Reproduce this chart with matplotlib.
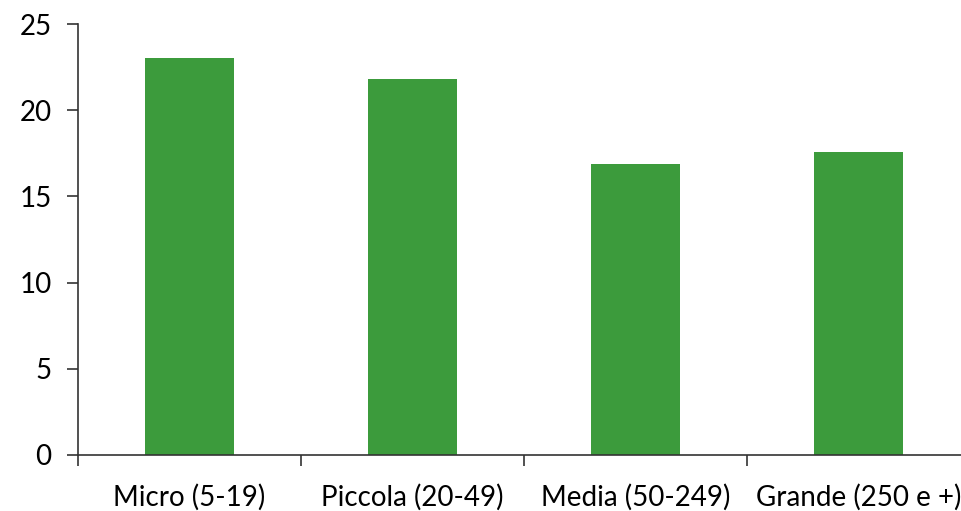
import numpy as np
import matplotlib.pyplot as plt

# dati
categorie = ['Micro (5-19)', 'Piccola (20-49)', 'Media (50-249)', 'Grande (250 e +)']
valori = [23.0, 21.8, 16.9, 17.6]

plt.rcParams['font.family'] = ['Lato', 'DejaVu Sans']

fig = plt.figure(figsize=(9.61, 5.11), dpi=100)
ax = fig.add_axes([0.0812, 0.1096, 0.9282, 0.8434])

x = np.arange(len(categorie))
ax.bar(x, valori, width=0.4, color='#3C9B3C')

ax.set_xlim(-0.5, 3.5)
ax.set_ylim(0, 25)
ax.set_yticks([0, 5, 10, 15, 20, 25])
ax.set_xticks(x)
ax.set_xticklabels(categorie)
# tick tra le categorie come in Excel
ax.set_xticks(np.arange(-0.5, 4, 1), minor=True)
ax.tick_params(axis='x', which='major', length=0, pad=21, labelsize=20)
ax.tick_params(axis='x', which='minor', length=8, width=1.2, color='#333333')
ax.tick_params(axis='y', length=8, width=1.2, pad=11, labelsize=20, color='#333333')

for s in ['top', 'right']:
    ax.spines[s].set_visible(False)
for s in ['left', 'bottom']:
    ax.spines[s].set_linewidth(1.2)
    ax.spines[s].set_color('#333333')

fig.savefig('out.png', dpi=100)
